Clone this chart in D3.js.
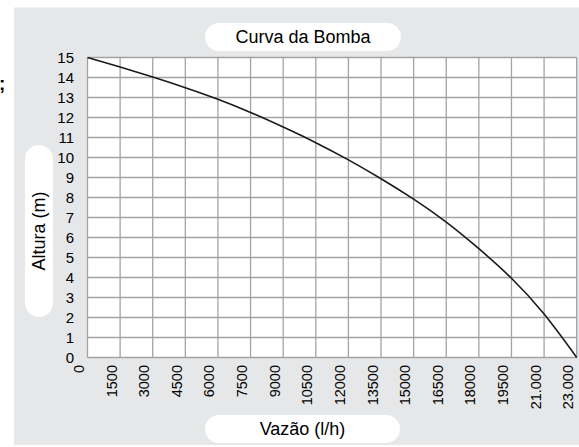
<!DOCTYPE html>
<html>
<head>
<meta charset="utf-8">
<script src="https://cdn.jsdelivr.net/npm/d3@7"></script>
<style>
  body { margin: 0; background: #fff; }
  svg { display: block; font-family: "Liberation Sans", Arial, sans-serif; }
</style>
</head>
<body>
<svg id="chart" width="579" height="447"></svg>
<script>
const vazao = ['0', '1500', '3000', '4500', '6000', '7500', '9000', '10500', '12000',
    '13500', '15000', '16500', '18000', '19500', '21.000', '23.000']
const altura = [15, 14.52, 14.02, 13.49, 12.91, 12.25, 11.52, 10.74, 9.88, 8.94, 7.92, 6.77, 5.44, 3.96, 2.17, 0]
const alturaTicks = d3.range(0, 16)

const titulo = 'Curva da Bomba'
const tituloX = 'Vazão (l/h)'
const tituloY = 'Altura (m)'

const draw = () => {

    let svg = d3.select('#chart')

    let margin = {top: 57.5, left: 87.5, right: 2.3, bottom: 89.5},
        width = 579 - margin.left - margin.right,
        height = 447 - margin.top - margin.bottom

    // fundo cinza
    svg.append('rect')
        .attr('x', 14).attr('y', 7.5)
        .attr('width', 570).attr('height', 437.5)
        .attr('fill', '#e6e7e8')

    svg.append('text')
        .attr('x', -1).attr('y', 90)
        .style('font-size', '19px')
        .style('font-weight', 'bold')
        .text(';')

    let x = d3.scalePoint()
        .domain(vazao)
        .range([margin.left, margin.left + width])

    let y = d3.scaleLinear()
        .domain([0, 15])
        .range([margin.top + height, margin.top])

    svg.append('rect')
        .attr('x', margin.left).attr('y', margin.top)
        .attr('width', width).attr('height', height)
        .attr('fill', '#fff')

    let grid = svg.append('g')
        .attr('stroke', '#a3a3a3')
        .attr('stroke-width', 1.3)

    grid.selectAll('.v')
        .data(vazao)
        .enter()
        .append('line')
        .attr('x1', d => x(d)).attr('x2', d => x(d))
        .attr('y1', y(0)).attr('y2', y(15))

    grid.selectAll('.h')
        .data(alturaTicks)
        .enter()
        .append('line')
        .attr('x1', x(vazao[0])).attr('x2', x(vazao[vazao.length - 1]))
        .attr('y1', d => y(d)).attr('y2', d => y(d))

    // rótulos do eixo Y
    svg.append('g')
        .selectAll('text')
        .data(alturaTicks)
        .enter()
        .append('text')
        .attr('x', 74)
        .attr('y', d => y(d))
        .attr('dy', '0.35em')
        .attr('text-anchor', 'end')
        .style('font-size', '15px')
        .text(d => d)

    // rótulos do eixo X
    svg.append('g')
        .selectAll('text')
        .data(vazao)
        .enter()
        .append('text')
        .attr('transform', d => 'translate(' + (x(d) - 3.5) + ',365)rotate(-90)')
        .attr('text-anchor', 'end')
        .style('font-size', '14.5px')
        .text(d => d)

    let line = d3.line()
        .x((d, i) => x(vazao[i]))
        .y(d => y(d))
        .curve(d3.curveNatural)

    svg.append('path')
        .datum(altura)
        .attr('d', line)
        .attr('fill', 'none')
        .attr('stroke', '#1a1a1a')
        .attr('stroke-width', 1.6)

    // caixas dos títulos
    const pill = (px, py, w, h, label, vertical) => {
        svg.append('rect')
            .attr('x', px).attr('y', py)
            .attr('width', w).attr('height', h)
            .attr('rx', Math.min(w, h) / 2)
            .attr('fill', '#fff')
        let cx = px + w / 2, cy = py + h / 2
        svg.append('text')
            .attr('transform', 'translate(' + cx + ',' + cy + ')' + (vertical ? 'rotate(-90)' : ''))
            .attr('dy', '0.35em')
            .attr('text-anchor', 'middle')
            .style('font-size', '18px')
            .text(label)
    }

    pill(205, 23, 196, 28, titulo, false)
    pill(205, 415, 195, 28, tituloX, false)
    pill(25, 145, 28, 172, tituloY, true)
}

draw()
</script>
</body>
</html>
